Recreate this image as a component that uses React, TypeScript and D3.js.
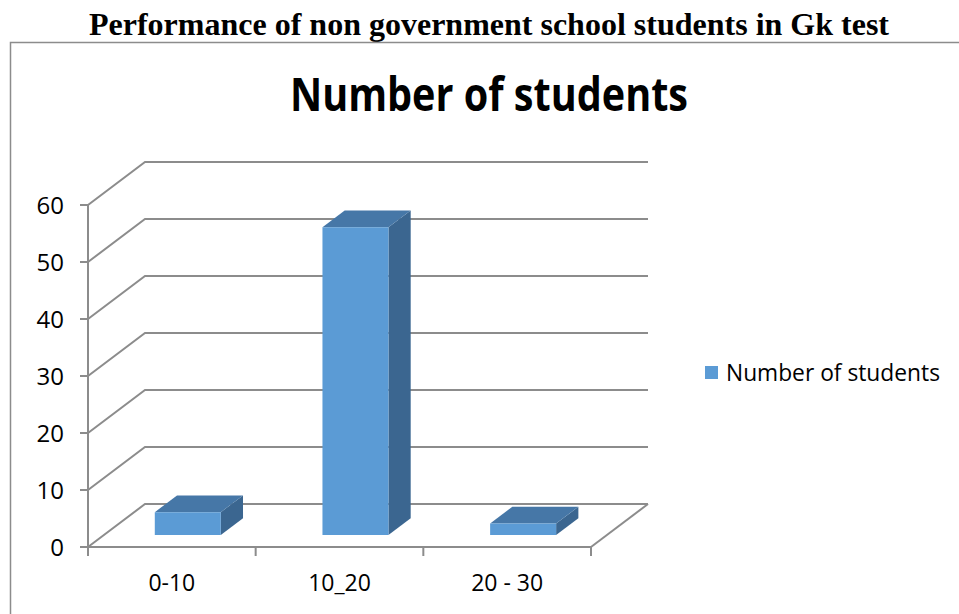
import React from "react";
import * as d3 from "d3";

const categories = ["0-10", "10_20", "20 - 30"];
const values = [4, 54, 2];
const yTicks = [0, 10, 20, 30, 40, 50, 60];
const seriesName = "Number of students";
const pageTitle = "Performance of non government school students in Gk test";

export default function App() {
  const W = 959, H = 614;
  const x0 = 88, x1 = 591;
  const DX = 57, DY = 43;
  const y = d3.scaleLinear().domain([0, 60]).range([547, 205]);
  const x = d3.scaleBand<string>().domain(categories).range([x0, x1]).paddingInner(0).paddingOuter(0);
  const barW = 66;
  const dFront = 0.28, dBack = 0.67;
  const proj = (px: number, v: number, d: number): [number, number] => [px + d * DX, y(v) - d * DY];
  const pts = (arr: [number, number][]) => arr.map(p => p.join(",")).join(" ");
  const grid = "#8c8c8c";
  const font = "'Open Sans', 'Liberation Sans', sans-serif";

  return (
    <svg width={W} height={H} style={{ position: "absolute", left: 0, top: 0 }}>
      <rect x={0} y={0} width={W} height={H} fill="#fff" />
      <text x={489} y={35} textAnchor="middle" fontFamily="'Liberation Serif', 'Times New Roman', serif" fontWeight="bold" fontSize={31} textLength={800} lengthAdjust="spacingAndGlyphs">{pageTitle}</text>
      <rect x={10.5} y={42.5} width={W} height={H} fill="#fff" stroke="#8c8c8c" strokeWidth={1.5} />
      <text x={489} y={111} textAnchor="middle" fontFamily={font} fontWeight="bold" fontSize={46} textLength={398} lengthAdjust="spacingAndGlyphs">Number of students</text>

      {/* walls/gridlines */}
      {yTicks.map(t => {
        const a = proj(x0, t, 0), b = proj(x0, t, 1);
        return <polyline key={t} points={pts([a, b, [x1 + DX, b[1]]])} fill="none" stroke={grid} strokeWidth={2} />;
      })}
      <line x1={x1 + DX} y1={y(0) - DY} x2={x1} y2={y(0)} stroke={grid} strokeWidth={2} />
      <line x1={x0} y1={y(0)} x2={x1} y2={y(0)} stroke={grid} strokeWidth={2} />
      <line x1={x0} y1={y(0)} x2={x0} y2={y(60)} stroke={grid} strokeWidth={2} />
      {yTicks.map(t => (
        <g key={"yt" + t}>
          <line x1={x0 - 8} x2={x0} y1={y(t)} y2={y(t)} stroke={grid} strokeWidth={2} />
          <text x={64} y={y(t)} dy="0.36em" textAnchor="end" fontFamily={font} fontSize={24} fill="#000">{t}</text>
        </g>
      ))}
      {[x0, ...categories.map(c => (x(c) as number) + x.bandwidth())].map((px, i) => (
        <line key={"xt" + i} x1={px} x2={px} y1={y(0)} y2={y(0) + 9} stroke={grid} strokeWidth={2} />
      ))}
      {categories.map(c => (
        <text key={"xl" + c} x={(x(c) as number) + x.bandwidth() / 2} y={591} textAnchor="middle" fontFamily={font} fontSize={23} fill="#000">{c}</text>
      ))}

      {/* bars */}
      {categories.map((c, i) => {
        const cx = (x(c) as number) + x.bandwidth() / 2;
        const l = cx - barW / 2, r = cx + barW / 2;
        const v = values[i];
        const fbl = proj(l, 0, dFront), fbr = proj(r, 0, dFront), ftl = proj(l, v, dFront), ftr = proj(r, v, dFront);
        const btl = proj(l, v, dBack), btr = proj(r, v, dBack), bbr = proj(r, 0, dBack);
        return (
          <g key={"bar" + c}>
            <polygon points={pts([fbr, ftr, btr, bbr])} fill="#3b6690" />
            <polygon points={pts([ftl, ftr, btr, btl])} fill="#4677a7" />
            <polygon points={pts([fbl, fbr, ftr, ftl])} fill="#5b9bd5" />
          </g>
        );
      })}

      {/* legend */}
      <rect x={705} y={366} width={13} height={13} fill="#5b9bd5" />
      <text x={726} y={381} fontFamily={font} fontSize={23} fill="#000" textLength={214} lengthAdjust="spacingAndGlyphs">{seriesName}</text>
    </svg>
  );
}
